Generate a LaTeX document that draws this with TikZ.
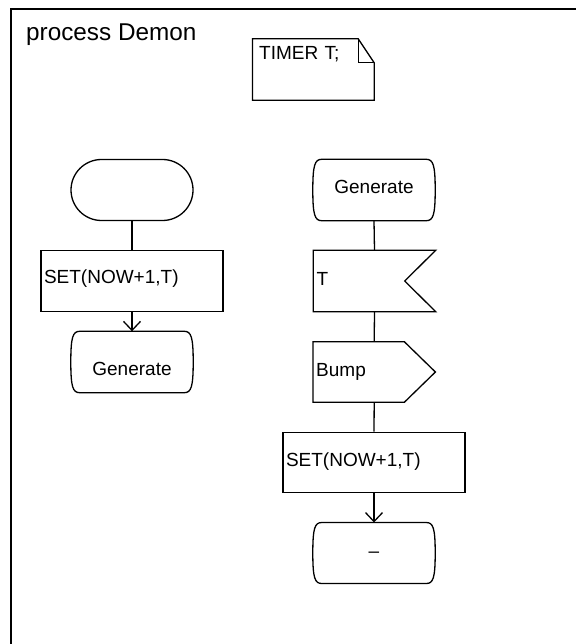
\documentclass[tikz,border=0pt]{standalone}
\usepackage{fontspec}
\setmainfont{Liberation Sans}
\usetikzlibrary{calc,shapes.misc,arrows.meta}

% outline of an SDL state symbol: rounded corners, slightly convex sides
\newcommand{\stateoutline}[1]{%
  \draw[shapeline] ($(#1.north west)+(9,0)$) -- ($(#1.north east)+(-9,0)$)
    .. controls +(7,0) and +(0,-25) .. (#1.east)
    .. controls +(0,25) and +(7,0) .. ($(#1.south east)+(-9,0)$)
    -- ($(#1.south west)+(9,0)$)
    .. controls +(-7,0) and +(0,25) .. (#1.west)
    .. controls +(0,-25) and +(-7,0) .. ($(#1.north west)+(9,0)$) -- cycle;}

\tikzset{
  shapeline/.style={line width=1.3pt, line join=miter},
  sdltext/.style={font=\fontsize{19}{22}\selectfont, text height=12pt, text depth=4pt},
  startbox/.style={sdltext, rounded rectangle, draw, shapeline,
    minimum width=122, minimum height=61, inner sep=0},
  statebox/.style={sdltext, rectangle, inner sep=0,
    minimum width=122, minimum height=61},
  taskbox/.style={sdltext, rectangle, draw, shapeline, inner xsep=3, inner ysep=0,
    minimum width=182, minimum height=61, text width=176, align=left},
  signalbox/.style={sdltext, rectangle, inner xsep=3, inner ysep=0,
    minimum width=122, minimum height=61, text width=116, align=left},
  flow/.style={line width=1.3pt},
  flowarrow/.style={flow, -{Straight Barb[length=9pt,width=17pt,line width=1.3pt]}},
}

\begin{document}
\begin{tikzpicture}[x=1pt,y=-1pt]
  \useasboundingbox (0,0) rectangle (576,644);

  % process frame
  \draw[line width=2pt, line join=miter] (11,644) -- (11,9) -- (576,9);
  \node[anchor=base west, inner sep=0, font=\fontsize{24.3}{27}\selectfont]
    (title) at (26,41) {process Demon};

  % text symbol with the timer declaration
  \node[sdltext, rectangle, inner xsep=6.5, inner ysep=0, minimum width=121.3,
    minimum height=61, text width=108.3, align=left,
    text height=14pt, text depth=34.4pt] (note) at (313.35,69.5) {TIMER T;};
  \draw[shapeline] (note.north west) -- ($(note.north east)+(-16,0)$)
    -- ($(note.north east)+(0,24)$) -- (note.south east) -- (note.south west) -- cycle;
  \draw[shapeline] ($(note.north east)+(-16,0)$) -- ($(note.north east)+(-16,24)$)
    -- ($(note.north east)+(0,24)$);

  % start transition
  \node[startbox] (start) at (132,190) {};
  \node[taskbox, text height=8pt] (set1) at (132,281) {SET(NOW+1,T)};
  \node[statebox, text height=30pt] (gen1) at (132,362) {Generate};
  \stateoutline{gen1}

  \draw[flow] (start.south) -- (set1.north);
  \draw[flowarrow] (set1.south) -- (gen1.north);

  % transition from state Generate on timer T
  \node[statebox] (gen2) at (374,190) {Generate};
  \stateoutline{gen2}

  \node[signalbox] (inp) at (374.5,281) {T};
  \draw[shapeline] (inp.north west) -- (inp.north east) -- ($(inp.east)+(-31,0)$)
    -- (inp.south east) -- (inp.south west) -- cycle;

  \node[signalbox, minimum height=60] (out) at (374.2,372) {Bump};
  \draw[shapeline] (out.north west) -- ($(out.north east)+(-31,0)$) -- (out.east)
    -- ($(out.south east)+(-31,0)$) -- (out.south west) -- cycle;

  \node[taskbox, minimum height=60] (set2) at (374,462.3) {SET(NOW+1,T)};

  \node[statebox, minimum height=60.6] (dash) at (374,553) {–};
  \stateoutline{dash}

  \draw[flow] (gen2.south) -- (inp.north);
  \draw[flow] (inp.south) -- (out.north);
  \draw[flow] (out.south) -- (set2.north);
  \draw[flowarrow] (set2.south) -- (dash.north);
\end{tikzpicture}
\end{document}
